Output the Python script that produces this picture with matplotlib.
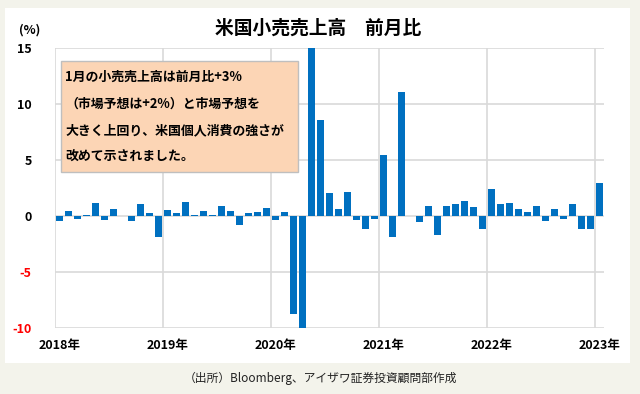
import matplotlib
matplotlib.use("Agg")
import matplotlib.pyplot as plt
from matplotlib.patches import Rectangle

plt.rcParams['font.family'] = ['Noto Sans CJK JP', 'DejaVu Sans']

# 米国小売売上高 前月比 (%)、2018年1月〜2023年1月
values = [
    -0.4, 0.5, -0.25, 0.1, 1.15, -0.35, 0.6, 0.0, -0.45, 1.05, 0.25, -1.85,   # 2018
    0.55, 0.25, 1.25, 0.1, 0.45, 0.1, 0.9, 0.45, -0.8, 0.25, 0.35, 0.7,       # 2019
    -0.35, 0.35, -8.75, -14.7, 17.7, 8.55, 2.05, 0.6, 2.15, -0.35, -1.15, -0.25,  # 2020
    5.45, -1.85, 11.05, 0.0, -0.5, 0.9, -1.7, 0.9, 1.05, 1.35, 0.8, -1.15,    # 2021
    2.4, 1.05, 1.15, 0.6, 0.35, 0.9, -0.45, 0.6, -0.25, 1.05, -1.15, -1.15,   # 2022
    2.95,                                                                     # 2023
]
year_labels = ['2018年', '2019年', '2020年', '2021年', '2022年', '2023年']
yticks = [-10, -5, 0, 5, 10, 15]
note_lines = [
    '1月の小売売上高は前月比+3%',
    '（市場予想は+2%）と市場予想を',
    '大きく上回り、米国個人消費の強さが',
    '改めて示されました。',
]

W, H = 640, 394
fig = plt.figure(figsize=(W / 100, H / 100), dpi=100)
fig.patch.set_facecolor('#f3f3eb')

# 白いパネル
fig.patches.append(Rectangle((5 / W, (H - 363) / H), 625 / W, 355 / H,
                             transform=fig.transFigure, facecolor='white',
                             edgecolor='none', zorder=-1))

ax = fig.add_axes([55.3 / W, (H - 328.3) / H, 549 / W, 280.3 / H])
ax.set_facecolor('none')

x = list(range(len(values)))
ax.bar(x, values, width=0.82, color='#0070c0', zorder=3)

ax.set_xlim(-0.5, len(values) - 0.5)
ax.set_ylim(-10, 15)

year_pos = [i * 12 - 0.5 for i in range(len(year_labels))]
for p in year_pos:
    ax.axvline(p, color='#d9d9d9', lw=1.2, zorder=1)
for yv in yticks:
    ax.axhline(yv, color='#d9d9d9', lw=1.2, zorder=1)

for s in ax.spines.values():
    s.set_visible(False)
# 年ラベルはグリッド線より少し右寄り
ax.set_xticks([p + 0.45 for p in year_pos])
ax.set_xticklabels(year_labels, fontsize=9, fontweight='bold')
ax.set_yticks(yticks)
ax.set_yticklabels([str(v) for v in yticks], fontsize=9, fontweight='bold')
for lbl, v in zip(ax.get_yticklabels(), yticks):
    if v < 0:
        lbl.set_color('red')
ax.tick_params(axis='x', length=0, pad=8)
ax.tick_params(axis='y', length=0, pad=17)

# タイトル等
fig.text(318 / W, 1 - 28 / H, '米国小売売上高　前月比', ha='center', va='center',
         fontsize=13.5, fontweight='bold')
fig.text(30 / W, 1 - 30 / H, '(%)', ha='center', va='center', fontsize=9, fontweight='bold')
fig.text(320 / W, 1 - 378 / H, '（出所）Bloomberg、アイザワ証券投資顧問部作成',
         ha='center', va='center', fontsize=8.5, color='#222222')

# 注記ボックス
fig.patches.append(Rectangle((60.7 / W, 1 - 172.3 / H), 237.6 / W, 111.6 / H,
                             transform=fig.transFigure, facecolor='#fcd5b5',
                             edgecolor='#bfbfbf', lw=1, zorder=5))
for i, line in enumerate(note_lines):
    fig.text(65 / W, 1 - (77 + i * 26.5) / H, line, ha='left', va='center',
             fontsize=9.3, fontweight='bold', zorder=6)

plt.savefig('out.png', dpi=100)
